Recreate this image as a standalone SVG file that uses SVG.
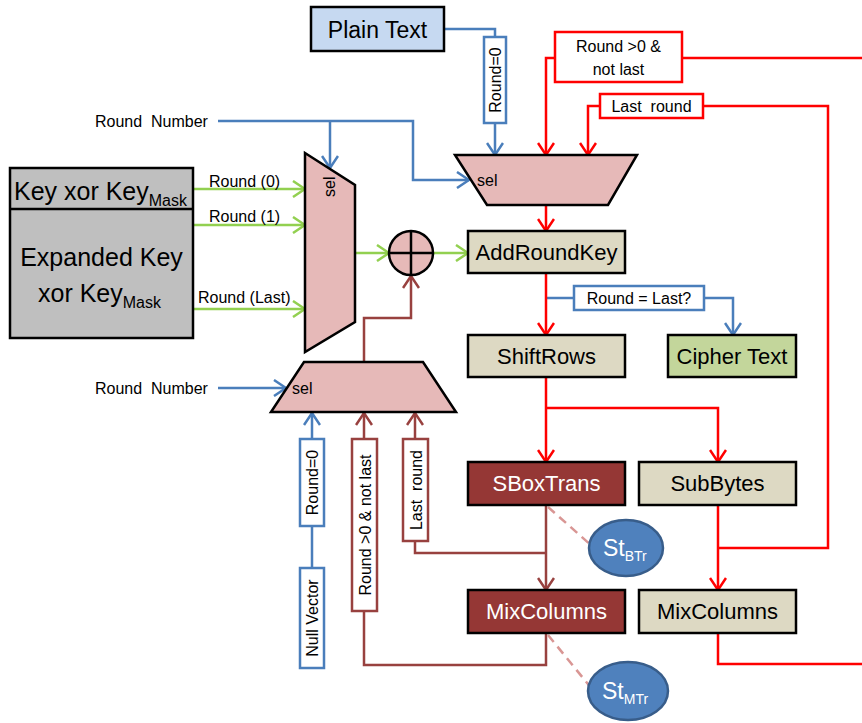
<svg xmlns="http://www.w3.org/2000/svg" width="862" height="723" viewBox="0 0 862 723">
<style>
text{font-family:"Liberation Sans",Arial,sans-serif;fill:#000}
.box{stroke:#000;stroke-width:2.5}
.tan{fill:#ddd9c3}
.dr{fill:#953735}
.mux{fill:#e6b9b8;stroke:#000;stroke-width:2.5}
.big{font-size:22px}
.sm{font-size:16px}
.lab{font-size:16px}
.w{fill:#fff}
.lb{fill:none;stroke:#4a7ebb;stroke-width:2.5}
.lr{fill:none;stroke:#ff0000;stroke-width:2.5}
.lg{fill:none;stroke:#92d050;stroke-width:2.5}
.ld{fill:none;stroke:#98413f;stroke-width:2.5}
.ldash{fill:none;stroke:#d99694;stroke-width:2.5;stroke-dasharray:9,6}
.tb{fill:#fff;stroke:#4a7ebb;stroke-width:2.5}
.tr{fill:#fff;stroke:#ff0000;stroke-width:2.5}
.td{fill:#fff;stroke:#98413f;stroke-width:2.5}
</style>
<defs>
<marker id="ab" markerUnits="userSpaceOnUse" markerWidth="14" markerHeight="18" viewBox="0 0 14 18" refX="13" refY="9" orient="auto"><path d="M1,1 L13,9 L1,17" fill="none" stroke="#4a7ebb" stroke-width="2.5"/></marker>
<marker id="ar" markerUnits="userSpaceOnUse" markerWidth="14" markerHeight="18" viewBox="0 0 14 18" refX="13" refY="9" orient="auto"><path d="M1,1 L13,9 L1,17" fill="none" stroke="#ff0000" stroke-width="2.5"/></marker>
<marker id="ag" markerUnits="userSpaceOnUse" markerWidth="14" markerHeight="18" viewBox="0 0 14 18" refX="13" refY="9" orient="auto"><path d="M1,1 L13,9 L1,17" fill="none" stroke="#92d050" stroke-width="2.5"/></marker>
<marker id="ad" markerUnits="userSpaceOnUse" markerWidth="14" markerHeight="18" viewBox="0 0 14 18" refX="13" refY="9" orient="auto"><path d="M1,1 L13,9 L1,17" fill="none" stroke="#98413f" stroke-width="2.5"/></marker>
</defs>

<g id="connectors">
<!-- blue -->
<polyline class="lb" points="444,29 495,29 495,37"/>
<polyline class="lb" points="495,123 495,155" marker-end="url(#ab)"/>
<polyline class="lb" points="218,121 413,121 413,180 469,180" marker-end="url(#ab)"/>
<polyline class="lb" points="330,121 330,168" marker-end="url(#ab)"/>
<polyline class="lb" points="218,388 286,388" marker-end="url(#ab)"/>
<polyline class="lb" points="546,298 574,298"/>
<polyline class="lb" points="704,298 733,298 733,335" marker-end="url(#ab)"/>
<polyline class="lb" points="312,439 312,413" marker-end="url(#ab)"/>
<polyline class="lb" points="312,526 312,568"/>
<!-- green -->
<polyline class="lg" points="193,189 305,189" marker-end="url(#ag)"/>
<polyline class="lg" points="193,225 305,225" marker-end="url(#ag)"/>
<polyline class="lg" points="193,309 305,309" marker-end="url(#ag)"/>
<polyline class="lg" points="355,253 389,253" marker-end="url(#ag)"/>
<polyline class="lg" points="433,253 468,253" marker-end="url(#ag)"/>
<!-- red -->
<polyline class="lr" points="546,205 546,231" marker-end="url(#ar)"/>
<polyline class="lr" points="546,273 546,335" marker-end="url(#ar)"/>
<polyline class="lr" points="546,377 546,462" marker-end="url(#ar)"/>
<polyline class="lr" points="546,408 718,408 718,462" marker-end="url(#ar)"/>
<polyline class="lr" points="718,505 718,590" marker-end="url(#ar)"/>
<polyline class="lr" points="718,633 718,664 862,664"/>
<polyline class="lr" points="555,58 546,58 546,155" marker-end="url(#ar)"/>
<polyline class="lr" points="682,58 862,58"/>
<polyline class="lr" points="600,106 588,106 588,155" marker-end="url(#ar)"/>
<polyline class="lr" points="703,106 828,106 828,548 718,548"/>
<!-- dark red -->
<polyline class="ld" points="364,362 364,318 411,318 411,276" marker-end="url(#ad)"/>
<polyline class="ld" points="364,439 364,413" marker-end="url(#ad)"/>
<polyline class="ld" points="415,439 415,413" marker-end="url(#ad)"/>
<polyline class="ld" points="546,505 546,590" marker-end="url(#ad)"/>
<polyline class="ld" points="415,541 415,553 546,553"/>
<polyline class="ld" points="364,611 364,665 546,665 546,633"/>
<line class="ldash" x1="548" y1="507" x2="592" y2="546"/>
<line class="ldash" x1="548" y1="635" x2="592" y2="689"/>
</g>

<g id="plain-text">
<rect class="box" x="311" y="7" width="133" height="44" fill="#c6d9f1"/>
<text x="377.5" y="37.5" text-anchor="middle" font-size="23">Plain Text</text>
</g>

<g id="label-round0-top">
<rect class="tb" x="484" y="37" width="22" height="86"/>
<text class="lab" transform="translate(501,80) rotate(-90)" text-anchor="middle">Round=0</text>
</g>

<g id="label-round-gt0-top">
<rect class="tr" x="555" y="32" width="127" height="50"/>
<text class="lab" x="618.5" y="52" text-anchor="middle">Round &gt;0 &amp;</text>
<text class="lab" x="618.5" y="75" text-anchor="middle">not last</text>
</g>

<g id="label-last-top">
<rect class="tr" x="600" y="94" width="103" height="24"/>
<text class="lab" x="651.5" y="112" text-anchor="middle" xml:space="preserve">Last  round</text>
</g>

<g id="mux-top">
<polygon class="mux" points="455,155 637,155 608,205 487,205"/>
<text class="lab" x="477" y="186">sel</text>
</g>

<g id="round-number-top">
<text class="sm" x="95" y="127" xml:space="preserve">Round  Number</text>
</g>

<g id="round-number-bottom">
<text class="sm" x="95" y="394" xml:space="preserve">Round  Number</text>
</g>

<g id="key-box">
<rect class="box" x="10" y="168" width="183" height="170" fill="#bfbfbf"/>
<line x1="10" y1="209" x2="193" y2="209" stroke="#000" stroke-width="2.5"/>
<text x="14" y="200" font-size="25">Key xor Key<tspan font-size="16" dy="6">Mask</tspan></text>
<text x="101.5" y="266" font-size="25" text-anchor="middle">Expanded Key</text>
<text x="38" y="302" font-size="25">xor Key<tspan font-size="16" dy="6">Mask</tspan></text>
</g>

<g id="green-labels">
<text class="sm" x="209" y="187">Round (0)</text>
<text class="sm" x="209" y="222">Round (1)</text>
<text class="sm" x="198" y="303">Round (Last)</text>
</g>

<g id="mux-left">
<polygon class="mux" points="305,153 355,185 355,322 305,352"/>
<text class="lab" transform="translate(335,197) rotate(-90)">sel</text>
</g>

<g id="xor">
<circle cx="411" cy="253" r="22" fill="#e6b9b8" stroke="#000" stroke-width="2.5"/>
<line x1="389" y1="253" x2="433" y2="253" stroke="#000" stroke-width="2.5"/>
<line x1="411" y1="231" x2="411" y2="275" stroke="#000" stroke-width="2.5"/>
</g>

<g id="mux-bottom">
<polygon class="mux" points="304,362 423,362 456,412 271,412"/>
<text class="lab" x="292" y="394">sel</text>
</g>

<g id="label-round0-bottom">
<rect class="tb" x="300" y="439" width="24" height="87"/>
<text class="lab" transform="translate(318,482.5) rotate(-90)" text-anchor="middle">Round=0</text>
</g>

<g id="null-vector">
<rect class="tb" x="300" y="568" width="24" height="100"/>
<text class="lab" transform="translate(318,618) rotate(-90)" text-anchor="middle">Null Vector</text>
</g>

<g id="label-round-gt0-bottom">
<rect class="td" x="352" y="439" width="25" height="172"/>
<text class="lab" transform="translate(370.5,525) rotate(-90)" text-anchor="middle">Round &gt;0 &amp; not last</text>
</g>

<g id="label-last-bottom">
<rect class="td" x="403" y="439" width="25" height="102"/>
<text class="lab" transform="translate(421.5,490) rotate(-90)" text-anchor="middle" xml:space="preserve">Last  round</text>
</g>

<g id="add-round-key">
<rect class="box tan" x="468" y="231" width="157" height="42"/>
<text class="big" x="546.5" y="260" text-anchor="middle">AddRoundKey</text>
</g>

<g id="label-round-last">
<rect class="tb" x="574" y="286" width="130" height="24"/>
<text class="lab" x="639" y="304" text-anchor="middle">Round = Last?</text>
</g>

<g id="shift-rows">
<rect class="box tan" x="468" y="335" width="157" height="42"/>
<text class="big" x="546.5" y="364" text-anchor="middle">ShiftRows</text>
</g>

<g id="cipher-text">
<rect class="box" x="668" y="335" width="128" height="42" fill="#c3d69b"/>
<text class="big" x="732" y="364" text-anchor="middle">Cipher Text</text>
</g>

<g id="sbox-trans">
<rect class="box dr" x="468" y="462" width="157" height="43"/>
<text class="big w" x="546.5" y="491" text-anchor="middle">SBoxTrans</text>
</g>

<g id="sub-bytes">
<rect class="box tan" x="639" y="462" width="157" height="43"/>
<text class="big" x="717.5" y="491" text-anchor="middle">SubBytes</text>
</g>

<g id="mix-columns-masked">
<rect class="box dr" x="468" y="590" width="157" height="43"/>
<text class="big w" x="546.5" y="619" text-anchor="middle">MixColumns</text>
</g>

<g id="mix-columns">
<rect class="box tan" x="639" y="590" width="157" height="43"/>
<text class="big" x="717.5" y="619" text-anchor="middle">MixColumns</text>
</g>

<g id="st-btr">
<ellipse cx="626" cy="548" rx="37" ry="28" fill="#4f81bd" stroke="#385d8a" stroke-width="2.5"/>
<text x="603" y="556" font-size="23" class="w">St<tspan font-size="14" dy="5">BTr</tspan></text>
</g>

<g id="st-mtr">
<ellipse cx="628" cy="691" rx="40" ry="29" fill="#4f81bd" stroke="#385d8a" stroke-width="2.5"/>
<text x="602" y="699" font-size="23" class="w">St<tspan font-size="14" dy="5">MTr</tspan></text>
</g>
</svg>
